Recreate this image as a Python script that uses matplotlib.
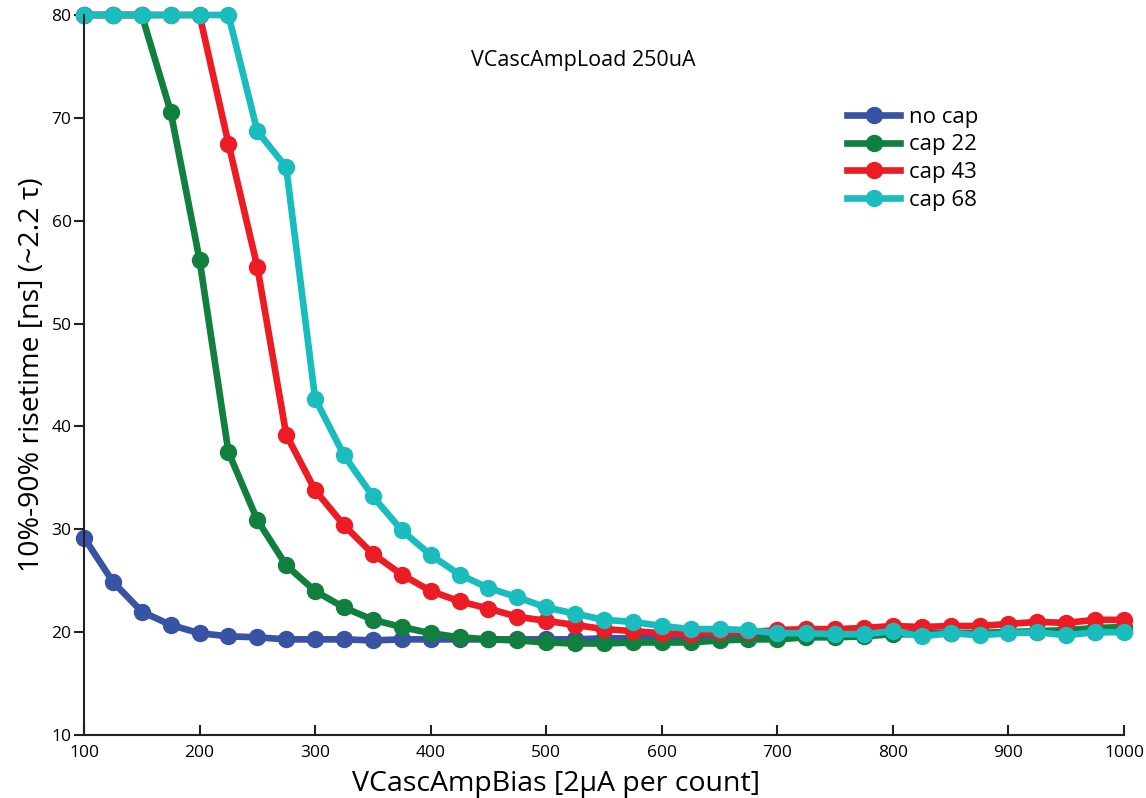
import numpy as np
import matplotlib
matplotlib.use('Agg')
import matplotlib.pyplot as plt

plt.rcParams['font.family'] = ['Open Sans', 'DejaVu Sans']

# VCascAmpBias setting (counts)
bias = list(range(100, 1001, 25))

no_cap = [29.2, 24.9, 22.0, 20.7, 19.9, 19.6, 19.5, 19.3, 19.3, 19.3,
          19.2, 19.3, 19.3, 19.3, 19.3, 19.3, 19.3, 19.3, 19.4, 19.4,
          19.5, 19.5, 19.6, 19.6, 19.7, 19.7, 19.8, 19.8, 19.9, 19.9,
          19.9, 19.9, 20.0, 20.0, 20.0, 20.0, 20.1]
cap_22 = [80.0, 80.0, 80.0, 70.6, 56.2, 37.5, 30.9, 26.5, 24.0, 22.4,
          21.2, 20.5, 19.9, 19.5, 19.3, 19.2, 19.0, 18.9, 18.9, 19.0,
          19.0, 19.0, 19.2, 19.3, 19.3, 19.5, 19.5, 19.6, 19.8, 19.8,
          19.9, 19.9, 20.0, 20.1, 20.2, 20.4, 20.5]
cap_43 = [80.0, 80.0, 80.0, 80.0, 80.0, 67.5, 55.5, 39.2, 33.8, 30.4,
          27.6, 25.6, 24.0, 23.0, 22.3, 21.5, 21.1, 20.7, 20.3, 20.1,
          19.9, 19.8, 20.0, 20.0, 20.2, 20.3, 20.3, 20.4, 20.6, 20.5,
          20.6, 20.6, 20.8, 21.0, 20.9, 21.2, 21.2]
cap_68 = [80.0, 80.0, 80.0, 80.0, 80.0, 80.0, 68.7, 65.2, 42.7, 37.2,
          33.2, 29.9, 27.5, 25.6, 24.3, 23.4, 22.4, 21.8, 21.2, 21.0,
          20.6, 20.3, 20.3, 20.2, 19.9, 19.9, 19.8, 19.8, 20.1, 19.6,
          19.9, 19.7, 19.9, 20.0, 19.7, 20.0, 20.0]

series = [
    ('no cap', no_cap, '#3953a4'),
    ('cap 22', cap_22, '#117f3e'),
    ('cap 43', cap_43, '#ed1c24'),
    ('cap 68', cap_68, '#19bdbd'),
]

fig = plt.figure(figsize=(11.46, 7.98), dpi=100)
ax = fig.add_axes([0.0733, 0.0789, 0.9075, 0.9023])

for name, vals, col in series:
    ax.plot(bias, vals, color=col, lw=4.8, marker='o', ms=11.5,
            label=name, clip_on=False)

ax.set_xlim(100, 1000)
ax.set_ylim(10, 80)
ax.set_xticks(range(100, 1001, 100))
ax.set_yticks(range(10, 81, 10))

ax.spines['top'].set_visible(False)
ax.spines['right'].set_visible(False)
for s in ('left', 'bottom'):
    ax.spines[s].set_linewidth(1.5)
    ax.spines[s].set_color('#222222')

ax.tick_params(axis='x', direction='in', length=7, width=1.5,
               labelsize=12.5, pad=7, color='#222222')
ax.tick_params(axis='y', direction='out', length=7, width=1.5,
               labelsize=12.5, pad=2, color='#222222')

ax.set_xlabel('VCascAmpBias [2\u03bcA per count]', fontsize=20.5)
ax.set_ylabel('10%-90% risetime [ns] (~2.2 \u03c4)', fontsize=20.5)
ax.xaxis.set_label_coords(0.454, -0.049)
ax.yaxis.set_label_coords(-0.037, 0.5)

ax.text(0.48, 0.9375, 'VCascAmpLoad 250uA', transform=ax.transAxes,
        ha='center', va='center', fontsize=15.5)

ax.legend(loc='upper left', bbox_to_anchor=(0.725, 0.885), frameon=False,
          fontsize=16, handlelength=2.4, handletextpad=0.4,
          labelspacing=0.3, borderaxespad=0)

fig.savefig('out.png', dpi=100)
